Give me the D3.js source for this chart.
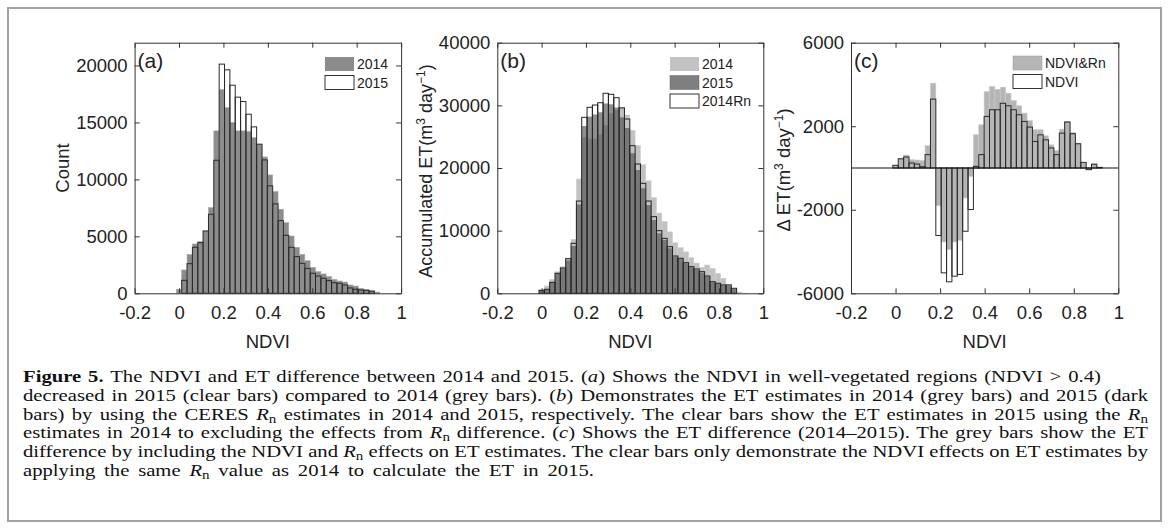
<!DOCTYPE html>
<html><head><meta charset="utf-8">
<script src="https://cdn.jsdelivr.net/npm/d3@7"></script>
<style>body{margin:0;background:#fff}text{white-space:pre}</style>
</head><body><svg id="fig" width="1171" height="530" xmlns="http://www.w3.org/2000/svg"></svg>
<script>
// ---- data ----
const binLeft = [-0.012,0.0121,0.0362,0.0603,0.0844,0.1085,0.1326,0.1567,0.1808,0.2049,0.229,0.2531,0.2772,0.3013,0.3254,0.3495,0.3736,0.3977,0.4218,0.4459,0.47,0.4941,0.5182,0.5423,0.5664,0.5905,0.6146,0.6387,0.6628,0.6869,0.711,0.7351,0.7592,0.7833,0.8074,0.8315,0.8556,0.8797,0.9038];
const binWidth = 0.0241;
const xTicks = [-0.2,0,0.2,0.4,0.6,0.8,1];
const xTickLabels = ["-0.2","0","0.2","0.4","0.6","0.8","1"];

const count2014 = [350,2050,3420,4330,4530,5470,7520,14260,17890,16300,14990,14260,14260,14200,13670,13090,11970,10390,8930,7380,6200,5030,4040,3420,2860,2280,1900,1700,1460,1230,1080,990,730,640,440,350,230,110,0];
const count2015 = [0,1140,2600,4040,4450,5470,6940,11680,20120,19620,18270,17220,16840,15720,14610,13090,11710,9430,7850,6380,5090,4040,3220,2630,2190,1760,1520,1320,1110,930,880,730,470,350,290,260,180,0,0];

const et2014 = [600,1170,2230,3450,4250,5590,8620,18240,24900,24660,24650,25360,26840,28740,29260,29680,28460,26010,23580,20530,17960,15280,12810,11490,9810,8070,7290,6620,5690,4830,4130,4520,3990,3190,2410,1440,610,200,30];
const et2015 = [470,640,1700,3100,3950,5240,7550,14180,26700,28200,28550,28900,30300,30170,29660,28090,26390,22350,19680,16760,14090,11700,9580,8510,7180,5800,5460,4790,4150,3720,3300,2660,1760,1490,1220,1170,690,0,0];
const et2014Rn = [470,640,1750,3190,4040,5530,7980,14730,28090,29690,30050,30420,31920,31760,31220,29600,27820,23560,20640,17560,14730,12230,10000,8770,7440,5950,5590,4890,4250,3880,3450,2760,1850,1600,1330,1330,800,0,0];

const dEtNdviRn = [130,460,620,400,380,350,1070,4060,-1800,-3540,-3900,-3540,-3460,-1430,-400,1590,2070,3660,3900,3770,3870,3580,3230,2980,2630,2270,1830,1830,1540,1110,830,1860,2230,1700,1190,270,-80,200,30];
const dEtNdvi = [130,440,525,240,190,60,640,3300,-3230,-5020,-5450,-5180,-5100,-3030,-1990,80,640,2470,2790,2790,3100,2980,2790,2550,2230,1960,1270,1590,1350,960,640,1670,2200,1640,1160,270,-80,180,30];

const yTicksA = [0,5000,10000,15000,20000];
const yTicksB = [0,10000,20000,30000,40000];
const yTicksC = [-6000,-2000,2000,6000];

// ---- drawing ----
const svg = d3.select("#fig");
const FONT = "'Liberation Sans', Arial, Helvetica, sans-serif";
const SERIF = "'Liberation Serif', 'Times New Roman', serif";

svg.append("rect").attr("x",8).attr("y",8).attr("width",1153).attr("height",513)
  .attr("fill","none").attr("stroke","#a3a3a3").attr("stroke-width",2);

function panel(cfg){
  const x = d3.scaleLinear().domain([-0.2,1]).range([cfg.x0,cfg.x1]);
  const y = d3.scaleLinear().domain(cfg.yDomain).range([cfg.y1,cfg.y0]);
  const g = svg.append("g");
  cfg.layers.forEach(L=>{
    const data = binLeft.map((b,i)=>({b,v:L.values[i]})).filter(d=>d.v!==0);
    g.append("g").selectAll("rect").data(data).join("rect")
      .attr("x",d=>x(d.b)).attr("width",d=>x(d.b+binWidth)-x(d.b))
      .attr("y",d=>Math.min(y(d.v),y(0))).attr("height",d=>Math.abs(y(d.v)-y(0)))
      .attr("fill",L.fill).attr("fill-opacity",L.opacity==null?1:L.opacity)
      .attr("stroke",L.stroke).attr("stroke-width",L.sw);
  });
  if(cfg.zeroLine){
    g.append("line").attr("x1",cfg.x0).attr("x2",cfg.x1).attr("y1",y(0)).attr("y2",y(0))
      .attr("stroke","#111").attr("stroke-width",1.2);
  }
  const axes = g.append("g");
  axes.append("g").attr("transform",`translate(0,${cfg.y1})`)
    .call(d3.axisBottom(x).tickValues(xTicks).tickFormat((d,i)=>xTickLabels[i]).tickSize(-5).tickSizeOuter(0).tickPadding(13));
  axes.append("g").attr("transform",`translate(0,${cfg.y0})`)
    .call(d3.axisTop(x).tickValues(xTicks).tickFormat("").tickSize(-5).tickSizeOuter(0));
  axes.append("g").attr("transform",`translate(${cfg.x0},0)`)
    .call(d3.axisLeft(y).tickValues(cfg.yTicks).tickFormat(d=>String(d)).tickSize(-5).tickSizeOuter(0).tickPadding(7));
  axes.append("g").attr("transform",`translate(${cfg.x1},0)`)
    .call(d3.axisRight(y).tickValues(cfg.yTicks).tickFormat("").tickSize(-5).tickSizeOuter(0));
  axes.selectAll(".domain").attr("stroke","#333").attr("stroke-width",1);
  axes.selectAll(".tick line").attr("stroke","#333");
  axes.selectAll("text").attr("font-family",FONT).attr("font-size",18.5).attr("fill","#222");
  g.append("text").attr("x",(cfg.x0+cfg.x1)/2).attr("y",348).attr("text-anchor","middle")
    .attr("font-family",FONT).attr("font-size",18.5).attr("fill","#222").text("NDVI");
  const yt = g.append("text").attr("transform",`translate(${cfg.ylabX},${cfg.ylabY}) rotate(-90)`)
    .attr("text-anchor","middle").attr("font-family",FONT).attr("font-size",cfg.ylabSize).attr("fill","#222");
  cfg.ylab.forEach(s=>{
    const t = yt.append("tspan").text(s[0]);
    if(s[1]==="sup"){t.attr("font-size",12).attr("dy",-7);} else if(s[2]) {t.attr("dy",7);}
  });
  g.append("text").attr("x",cfg.x0+3).attr("y",68).attr("font-family",FONT).attr("font-size",21)
    .attr("fill","#222").text(cfg.letter);
  cfg.legend.forEach((L,i)=>{
    const yy = cfg.legY + i*18.5;
    g.append("rect").attr("x",cfg.legX).attr("y",yy).attr("width",29).attr("height",14)
      .attr("fill",L.fill).attr("stroke",L.stroke).attr("stroke-width",L.sw);
    g.append("text").attr("x",cfg.legX+32).attr("y",yy+12).attr("font-family",FONT)
      .attr("font-size",14).attr("fill","#222").text(L.label);
  });
}

const greyA = "#8c8c8c";
panel({x0:134.6,x1:401.1,y0:42.7,y1:293.3,yDomain:[0,22000],yTicks:yTicksA,
  layers:[{values:count2014,fill:greyA,stroke:"#a8a8a8",sw:0.6},
          {values:count2015,fill:"none",stroke:"#2a2a2a",sw:1}],
  ylabX:68.5, ylabY:168, ylabSize:18.5, ylab:[["Count"]], letter:"(a)", legX:325, legY:57,
  legend:[{label:"2014",fill:greyA,stroke:"none",sw:0},{label:"2015",fill:"#fff",stroke:"#333",sw:1}]});

panel({x0:497.3,x1:763.3,y0:42.7,y1:293.3,yDomain:[0,40000],yTicks:yTicksB,
  layers:[{values:et2014,fill:"#c2c2c2",stroke:"#d0d0d0",sw:0.5},
          {values:et2015,fill:"#4a4a4a",opacity:0.62,stroke:"none",sw:0},
          {values:et2014Rn,fill:"none",stroke:"#222",sw:1}],
  ylabX:431.5, ylabY:171, ylabSize:18, ylab:[["Accumulated ET(m"],["3","sup"],[" day","n",1],["\u22121","sup"],[")","n",1]],
  letter:"(b)", legX:670, legY:57,
  legend:[{label:"2014",fill:"#c2c2c2",stroke:"none",sw:0},{label:"2015",fill:"#7f7f7f",stroke:"#666",sw:0.5},{label:"2014Rn",fill:"#fff",stroke:"#333",sw:1}]});

panel({x0:851,x1:1118.3,y0:42.7,y1:293.3,yDomain:[-6000,6000],yTicks:yTicksC,zeroLine:true,
  layers:[{values:dEtNdviRn,fill:"#b5b5b5",stroke:"#c8c8c8",sw:0.6},
          {values:dEtNdvi,fill:"none",stroke:"#2a2a2a",sw:1}],
  ylabX:790, ylabY:170, ylabSize:18.5, ylab:[["\u0394 ET(m"],["3","sup"],[" day","n",1],["\u22121","sup"],[")","n",1]],
  letter:"(c)", legX:1013, legY:56,
  legend:[{label:"NDVI&Rn",fill:"#b5b5b5",stroke:"#999",sw:0.5},{label:"NDVI",fill:"#fff",stroke:"#333",sw:1}]});

// ---- caption ----
const captionLines = [
  [["Figure 5.","b"],[" The NDVI and ET difference between 2014 and 2015. ("],["a","i"],[") Shows the NDVI in well-vegetated regions (NDVI > 0.4)"]],
  [["decreased in 2015 (clear bars) compared to 2014 (grey bars). ("],["b","i"],[") Demonstrates the ET estimates in 2014 (grey bars) and 2015 (dark"]],
  [["bars) by using the CERES "],["R","i"],["n","sub"],[" estimates in 2014 and 2015, respectively. The clear bars show the ET estimates in 2015 using the "],["R","i"],["n","sub"]],
  [["estimates in 2014 to excluding the effects from "],["R","i"],["n","sub"],[" difference. ("],["c","i"],[") Shows the ET difference (2014\u20132015). The grey bars show the ET"]],
  [["difference by including the NDVI and "],["R","i"],["n","sub"],[" effects on ET estimates. The clear bars only demonstrate the NDVI effects on ET estimates by"]],
  [["applying the same "],["R","i"],["n","sub"],[" value as 2014 to calculate the ET in 2015."]]
];
const capRight = [1101,1148,1148,1148,1148,594];
const capNodes = captionLines.map((line,li)=>{
  const t = svg.append("text").attr("x",0).attr("y",382+li*18.8)
    .attr("font-family",SERIF).attr("font-size",16.5).attr("fill","#111");
  let prevSub=false;
  line.forEach(seg=>{
    const s = t.append("tspan").text(seg[0]);
    if(seg[1]==="b") s.attr("font-weight","bold");
    if(seg[1]==="i") s.attr("font-style","italic");
    if(seg[1]==="sub"){ s.attr("font-size",12).attr("dy",3); prevSub=true; }
    else if(prevSub){ s.attr("dy",-3); prevSub=false; }
  });
  return t;
});
let sx = Infinity;
capNodes.forEach((t,li)=>{ sx = Math.min(sx, (capRight[li]-23)/t.node().getComputedTextLength()); });
capNodes.forEach((t,li)=>{
  t.attr("transform",`translate(23,0) scale(${sx},1)`);
  const w = t.node().getComputedTextLength();
  const n = captionLines[li].map(s=>s[0]).join("").split(" ").length-1;
  const target = (capRight[li]-23)/sx;
  if(n>0 && target>w) t.attr("word-spacing",(target-w)/n);
});
</script></body></html>
